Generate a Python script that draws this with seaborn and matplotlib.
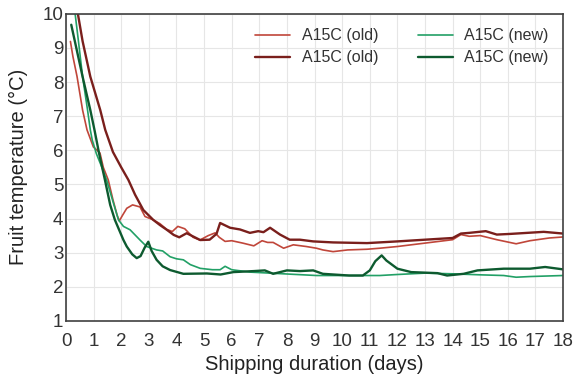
import pandas as pd
import matplotlib
matplotlib.use("Agg")
import matplotlib.pyplot as plt
import seaborn as sns

# --- data (days, deg C) ---
old1_days = [0.16, 0.25, 0.4, 0.6, 0.76, 0.99, 1.1, 1.23, 1.35, 1.53, 1.7, 1.85, 1.93, 2.05, 2.2,
             2.41, 2.68, 2.86, 3.16, 3.4, 3.65, 3.85, 4.05, 4.3, 4.6, 4.85, 5.15, 5.4, 5.55, 5.76,
             6.0, 6.4, 6.8, 7.1, 7.3, 7.5, 7.88, 8.23, 8.7, 9.07, 9.3, 9.67, 10.2, 10.9, 11.36,
             12, 13, 14, 14.3, 14.6, 15, 15.6, 16.3, 16.8, 17.5, 18]
old1_temp = [9.19, 8.75, 8.16, 7.18, 6.6, 6.1, 6.02, 5.92, 5.5, 5.13, 4.55, 4.1, 3.93, 4.1, 4.3,
             4.4, 4.34, 4.06, 3.96, 3.85, 3.68, 3.62, 3.77, 3.7, 3.45, 3.37, 3.5, 3.58, 3.45, 3.33,
             3.35, 3.28, 3.2, 3.35, 3.3, 3.3, 3.13, 3.23, 3.18, 3.13, 3.08, 3.03, 3.08, 3.1, 3.13,
             3.18, 3.28, 3.38, 3.53, 3.48, 3.5, 3.38, 3.26, 3.35, 3.43, 3.46]

old2_days = [0.3, 0.43, 0.6, 0.88, 1.24, 1.42, 1.7, 2.0, 2.26, 2.5, 2.8, 3.16, 3.4, 3.65, 3.9,
             4.1, 4.37, 4.86, 5.2, 5.45, 5.58, 5.94, 6.3, 6.66, 6.96, 7.15, 7.39, 7.75, 8.1, 8.47,
             8.95, 9.67, 10.9, 12, 13, 14, 14.3, 14.6, 15.2, 15.6, 16.1, 16.7, 17.3, 18]
old2_temp = [10.3, 10.0, 9.2, 8.16, 7.18, 6.6, 5.95, 5.5, 5.13, 4.7, 4.25, 3.96, 3.81, 3.67, 3.52,
             3.45, 3.57, 3.37, 3.38, 3.55, 3.87, 3.73, 3.68, 3.58, 3.63, 3.6, 3.73, 3.53, 3.38, 3.38,
             3.33, 3.3, 3.28, 3.33, 3.38, 3.43, 3.56, 3.58, 3.63, 3.53, 3.55, 3.58, 3.61, 3.56]

new1_days = [0.26, 0.33, 0.45, 0.6, 0.78, 0.88, 0.95, 1.1, 1.3, 1.47, 1.7, 1.9, 2.08, 2.32, 2.68,
             2.92, 3.28, 3.5, 3.77, 4.0, 4.25, 4.5, 4.86, 5.3, 5.58, 5.76, 6.0, 6.66, 7.87, 9.07,
             11.36, 12, 13, 14, 15, 15.85, 16.3, 16.8, 18]
new1_temp = [10.3, 10.0, 9.2, 8.16, 7.18, 6.6, 6.3, 5.9, 5.5, 5.13, 4.5, 3.96, 3.77, 3.67, 3.37,
             3.18, 3.08, 3.05, 2.88, 2.82, 2.79, 2.65, 2.54, 2.5, 2.5, 2.6, 2.5, 2.43, 2.38, 2.33,
             2.33, 2.36, 2.4, 2.38, 2.35, 2.33, 2.28, 2.3, 2.33]

new2_days = [0.19, 0.4, 0.6, 0.88, 1.03, 1.2, 1.41, 1.6, 1.77, 2.08, 2.2, 2.4, 2.56, 2.7, 2.85,
             2.98, 3.1, 3.28, 3.5, 3.77, 4.25, 5.1, 5.6, 6.06, 6.8, 7.2, 7.5, 8.0, 8.47, 8.95, 9.3,
             10.25, 10.75, 11.0, 11.2, 11.43, 11.6, 12.0, 12.5, 13.45, 13.8, 14.4, 14.9, 15.85,
             16.8, 17.35, 18]
new2_temp = [9.68, 8.9, 8.16, 7.18, 6.6, 5.9, 5.13, 4.4, 3.96, 3.37, 3.18, 2.95, 2.84, 2.9, 3.15,
             3.32, 3.05, 2.79, 2.6, 2.49, 2.38, 2.39, 2.36, 2.43, 2.46, 2.48, 2.38, 2.48, 2.46, 2.48,
             2.38, 2.33, 2.33, 2.48, 2.75, 2.92, 2.77, 2.53, 2.43, 2.4, 2.33, 2.38, 2.48, 2.53,
             2.53, 2.58, 2.51]

labels = ["A15C (old)", "A15C (old)", "A15C (new)", "A15C (new)"]
colors = ["#c0463a", "#7a1f1c", "#22a066", "#0d5a2f"]
widths = [1.2, 1.7, 1.2, 1.7]
series = [(old1_days, old1_temp), (old2_days, old2_temp),
          (new1_days, new1_temp), (new2_days, new2_temp)]

sns.set_style("whitegrid")
plt.rcParams["font.family"] = ["Liberation Sans", "DejaVu Sans"]

fig, ax = plt.subplots(figsize=(5.74, 3.74), dpi=100)
fig.subplots_adjust(left=0.115, right=0.981, top=0.963, bottom=0.142)

for (d, t), lab, col, lw in zip(series, labels, colors, widths):
    df = pd.DataFrame({"day": d, "temp": t})
    sns.lineplot(data=df, x="day", y="temp", ax=ax, color=col, label=lab,
                 linewidth=lw, estimator=None)

ax.set_xlim(0, 18)
ax.set_ylim(1, 10)
ax.set_xticks(range(0, 19))
ax.set_yticks(range(1, 11))
ax.grid(True, color="#e6e6e6", linewidth=0.8)
for s in ax.spines.values():
    s.set_color("#404040")
    s.set_linewidth(1.2)
ax.tick_params(labelsize=13.5, colors="#333333", length=0)
ax.tick_params(axis="x", pad=9)
ax.tick_params(axis="y", pad=2)
ax.set_xlabel("Shipping duration (days)", fontsize=14.5, color="#222222", labelpad=3)
ax.set_ylabel("Fruit temperature (°C)", fontsize=14.5, color="#222222", labelpad=10)

ax.legend(ncol=2, loc="upper right", frameon=False, fontsize=11.5,
          handlelength=2.2, handletextpad=0.7, columnspacing=2.5, labelspacing=0.45,
          bbox_to_anchor=(1.0, 1.0), labelcolor="#333333")

plt.savefig("out.png", dpi=100)
